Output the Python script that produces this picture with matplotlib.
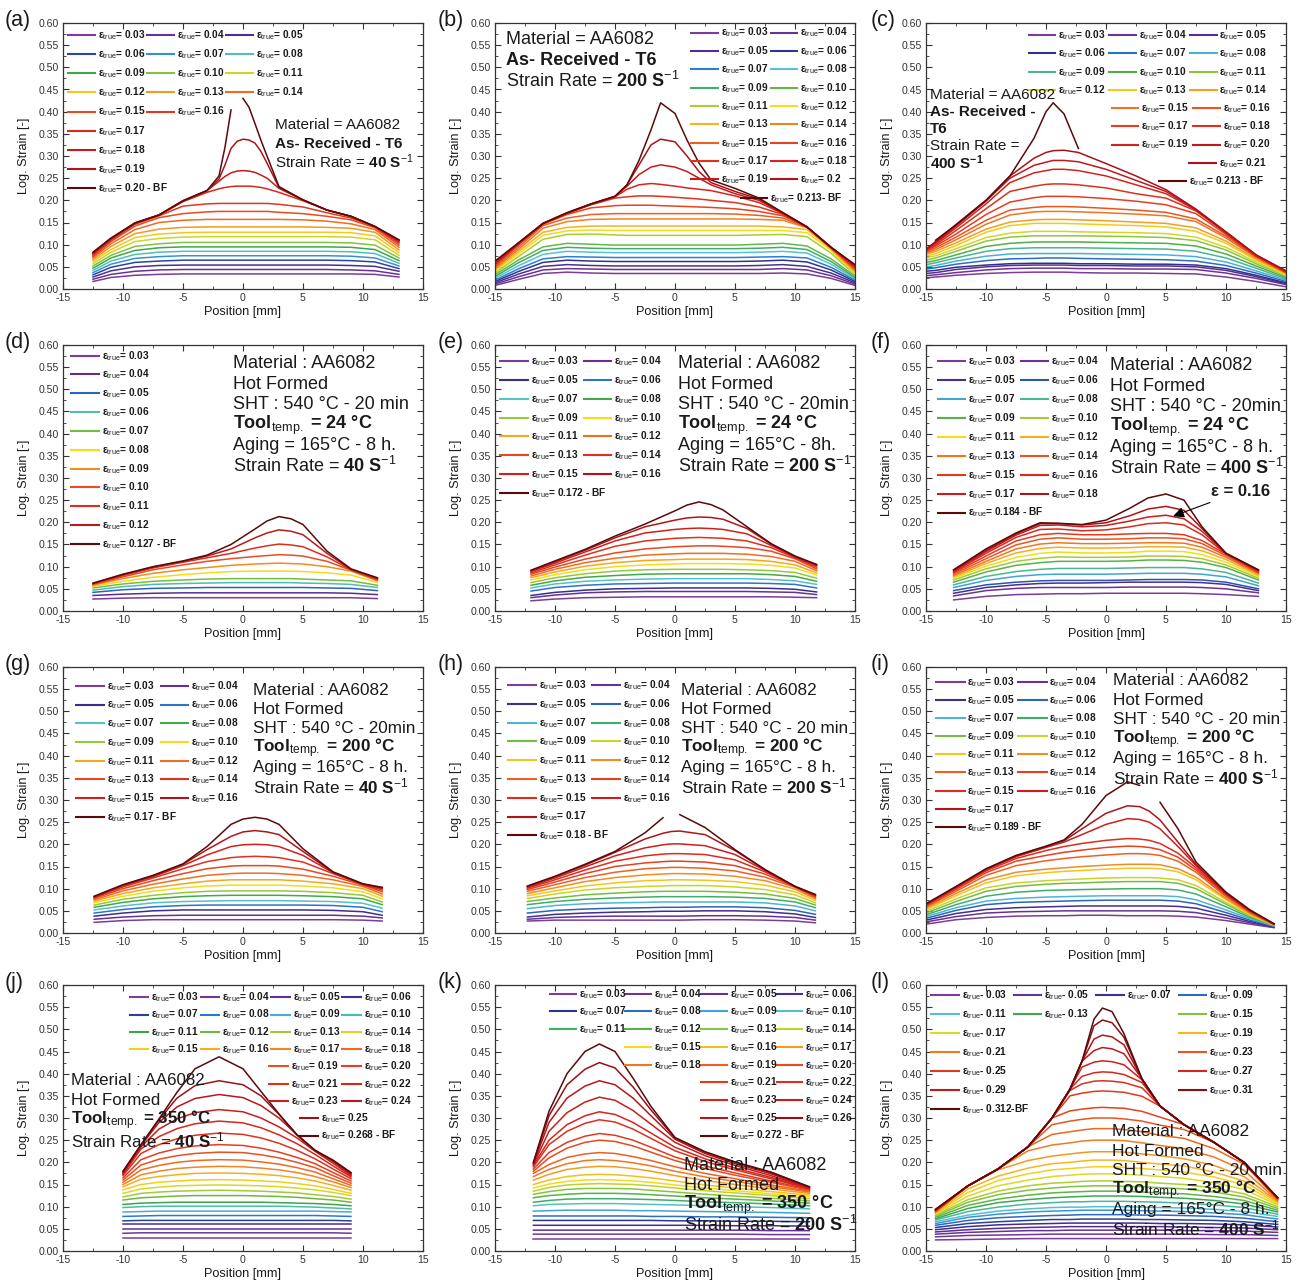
"""Log. strain profiles along the specimen, panels (a)-(l)."""

import matplotlib
matplotlib.use("Agg")
import matplotlib.pyplot as plt
import numpy as np
from matplotlib.colors import LinearSegmentedColormap
from matplotlib.lines import Line2D
from matplotlib.ticker import FormatStrFormatter, MultipleLocator

plt.rcParams["font.family"] = ["Liberation Sans", "DejaVu Sans"]
plt.rcParams["mathtext.fontset"] = "custom"
plt.rcParams["mathtext.rm"] = "Liberation Sans"
plt.rcParams["mathtext.bf"] = "Liberation Sans:bold"
plt.rcParams["mathtext.it"] = "Liberation Sans:italic"
plt.rcParams["mathtext.default"] = "regular"
plt.rcParams["axes.unicode_minus"] = False

nan = np.nan

# ---------------- (a) As-received T6, 40 1/s ----------------
x_a = [-12.5, -11, -9, -7, -5, -3, -2, -1.5, -1, -0.5, 0, 0.5, 1, 1.5, 2, 3, 5, 7, 9, 11, 13]
y_a = [
    [.017, .026, .031, .033, .034, .034, .034, .034, .034, .034, .034, .034, .034, .034, .034, .034, .034, .034, .034, .033, .027],
    [.022, .033, .040, .043, .044, .044, .044, .044, .044, .044, .044, .044, .044, .044, .044, .044, .044, .044, .043, .041, .033],
    [.027, .041, .050, .053, .054, .054, .054, .054, .054, .054, .054, .054, .054, .054, .054, .054, .054, .054, .053, .051, .040],
    [.032, .049, .060, .063, .065, .065, .065, .065, .065, .065, .065, .065, .065, .065, .065, .065, .065, .065, .064, .061, .046],
    [.037, .056, .069, .073, .075, .075, .075, .075, .075, .075, .075, .075, .075, .075, .075, .075, .075, .075, .074, .070, .052],
    [.042, .063, .078, .083, .085, .085, .085, .085, .085, .085, .085, .085, .085, .085, .085, .085, .085, .085, .084, .080, .058],
    [.047, .070, .087, .093, .095, .095, .095, .095, .095, .095, .095, .095, .095, .095, .095, .095, .095, .095, .094, .089, .064],
    [.052, .076, .096, .102, .105, .105, .105, .105, .105, .105, .105, .105, .105, .105, .105, .105, .105, .105, .104, .099, .070],
    [.057, .083, .107, .114, .117, .118, .118, .118, .118, .118, .118, .118, .118, .118, .118, .118, .118, .118, .117, .111, .076],
    [.062, .089, .116, .124, .127, .128, .128, .128, .128, .128, .128, .128, .128, .128, .128, .128, .128, .128, .127, .120, .082],
    [.066, .096, .125, .135, .139, .140, .140, .140, .140, .140, .140, .140, .140, .140, .140, .140, .140, .139, .137, .128, .088],
    [.070, .102, .134, .150, .155, .157, .157, .157, .157, .157, .157, .157, .157, .157, .157, .157, .156, .153, .147, .134, .094],
    [.073, .107, .142, .161, .170, .174, .175, .175, .175, .175, .175, .175, .175, .175, .175, .173, .170, .164, .156, .138, .099],
    [.076, .110, .146, .165, .187, .192, .193, .193, .193, .193, .193, .193, .193, .193, .193, .191, .185, .172, .160, .140, .103],
    [.078, .112, .148, .166, .197, .218, .226, .229, .231, .232, .232, .232, .231, .229, .226, .218, .199, .178, .163, .141, .106],
    [.080, .113, .149, .167, .199, .222, .243, .254, .262, .266, .267, .266, .263, .257, .250, .227, .201, .178, .164, .141, .108],
    [.082, .114, .149, .167, .199, .222, .248, .280, .317, .333, .338, .336, .329, .310, .284, .229, .201, .178, .164, .141, .110],
    [.083, .115, .149, .167, .199, .222, .255, .320, .404, nan, .430, .410, .373, .335, .300, .231, .201, .178, .164, .141, .111],
]
lab_a = ["0.03", "0.04", "0.05", "0.06", "0.07", "0.08", "0.09", "0.10", "0.11", "0.12",
         "0.13", "0.14", "0.15", "0.16", "0.17", "0.18", "0.19", "0.20 - BF"]

# ---------------- (b) As-received T6, 200 1/s ----------------
x_b = [-15, -13, -11, -9, -7, -5, -4, -3, -2, -1.2, 0, 1, 2, 3, 5, 7, 9, 11, 13, 15]
y_b = [
    [.008, .022, .035, .038, .036, .035, .035, .035, .035, .035, .035, .035, .035, .035, .035, .035, .036, .034, .024, .008],
    [.011, .028, .043, .046, .045, .044, .044, .044, .044, .044, .044, .044, .044, .044, .044, .044, .046, .043, .030, .011],
    [.014, .034, .051, .055, .053, .052, .052, .052, .052, .052, .052, .052, .052, .052, .052, .053, .055, .051, .036, .014],
    [.017, .040, .060, .065, .063, .062, .062, .062, .062, .062, .062, .062, .062, .062, .062, .063, .065, .061, .043, .017],
    [.020, .046, .068, .073, .072, .071, .071, .071, .071, .071, .071, .071, .071, .071, .071, .072, .073, .070, .049, .020],
    [.024, .053, .078, .085, .083, .082, .082, .082, .082, .082, .082, .082, .082, .082, .082, .083, .085, .081, .056, .023],
    [.028, .060, .087, .094, .092, .091, .091, .091, .091, .091, .091, .091, .091, .091, .091, .092, .094, .089, .062, .026],
    [.032, .066, .095, .103, .101, .099, .099, .099, .099, .099, .099, .099, .099, .099, .099, .101, .103, .097, .068, .029],
    [.036, .074, .112, .123, .124, .122, .121, .121, .121, .121, .121, .121, .121, .121, .121, .122, .123, .118, .081, .032],
    [.040, .080, .121, .131, .133, .132, .132, .132, .132, .132, .132, .132, .132, .132, .132, .132, .132, .127, .087, .035],
    [.043, .085, .128, .139, .142, .142, .142, .142, .142, .142, .142, .142, .142, .142, .142, .142, .140, .134, .090, .038],
    [.046, .090, .137, .152, .157, .158, .158, .158, .158, .158, .158, .158, .158, .158, .158, .157, .155, .138, .092, .041],
    [.049, .095, .143, .160, .168, .170, .170, .170, .170, .170, .170, .170, .170, .170, .169, .166, .160, .139, .093, .044],
    [.052, .100, .146, .168, .183, .188, .189, .189, .189, .188, .187, .186, .185, .184, .181, .175, .165, .140, .093, .046],
    [.055, .102, .147, .170, .190, .205, .208, .210, .210, .209, .207, .205, .203, .200, .195, .185, .168, .140, .094, .048],
    [.057, .103, .147, .171, .191, .208, .225, .235, .238, .236, .232, .228, .225, .222, .210, .195, .170, .140, .094, .050],
    [.059, .104, .148, .171, .191, .209, .232, .258, .275, .280, .275, .265, .250, .235, .215, .200, .171, .140, .094, .052],
    [.061, .105, .148, .172, .192, .209, .235, .280, .325, .338, .332, .300, .265, .240, .220, .203, .172, .140, .094, .054],
    [.063, .105, .148, .172, .192, .209, .235, .290, .359, .420, .396, .336, .284, .246, .227, .205, .172, .140, .094, .055],
]
lab_b = ["0.03", "0.04", "0.05", "0.06", "0.07", "0.08", "0.09", "0.10", "0.11", "0.12",
         "0.13", "0.14", "0.15", "0.16", "0.17", "0.18", "0.19", "0.2", "0.213- BF"]

# ---------------- (c) As-received T6, 400 1/s ----------------
x_c = [-15, -14.2, -12.5, -10, -8, -6, -5, -4.4, -3.5, -2.3, 0, 2.5, 5, 7.5, 10, 12.5, 15]
y_c = [
    [.025, .027, .031, .035, .037, .038, .038, .038, .038, .037, .036, .036, .035, .034, .027, .017, .005],
    [.030, .032, .037, .043, .046, .047, .047, .047, .047, .046, .046, .045, .045, .044, .036, .024, .010],
    [.035, .037, .044, .050, .053, .054, .054, .054, .054, .053, .053, .052, .052, .050, .042, .028, .012],
    [.040, .042, .049, .054, .057, .058, .058, .058, .058, .057, .057, .056, .056, .054, .046, .031, .014],
    [.045, .048, .056, .064, .068, .069, .070, .070, .070, .069, .068, .067, .066, .063, .053, .036, .017],
    [.050, .053, .063, .074, .079, .080, .080, .080, .080, .080, .079, .078, .077, .073, .061, .041, .020],
    [.055, .059, .070, .085, .091, .093, .093, .093, .093, .093, .092, .091, .090, .085, .070, .047, .023],
    [.060, .064, .077, .096, .103, .106, .106, .106, .106, .106, .105, .104, .103, .097, .079, .052, .026],
    [.065, .070, .085, .108, .117, .120, .120, .120, .120, .120, .119, .118, .116, .109, .088, .057, .029],
    [.070, .075, .091, .116, .126, .130, .130, .130, .130, .129, .128, .127, .125, .117, .094, .061, .031],
    [.074, .080, .098, .128, .143, .148, .148, .148, .148, .147, .145, .143, .140, .130, .103, .065, .033],
    [.078, .085, .104, .135, .151, .156, .157, .157, .157, .156, .154, .151, .148, .138, .108, .068, .035],
    [.081, .089, .111, .146, .167, .174, .175, .175, .175, .174, .172, .169, .165, .152, .115, .071, .036],
    [.083, .093, .117, .155, .178, .184, .186, .186, .186, .185, .182, .178, .173, .158, .119, .073, .037],
    [.085, .097, .124, .168, .196, .206, .209, .209, .209, .208, .204, .198, .190, .170, .123, .074, .038],
    [.087, .100, .132, .181, .220, .232, .236, .237, .237, .235, .228, .215, .205, .176, .126, .075, .039],
    [.088, .103, .138, .192, .240, .262, .267, .270, .270, .267, .255, .235, .215, .178, .127, .076, .040],
    [.089, .105, .142, .198, .250, .279, .286, .290, .290, .287, .270, .245, .220, .179, .128, .077, .040],
    [.090, .107, .145, .200, .255, .295, .308, .312, .313, .308, .283, .255, .224, .180, .129, .077, .041],
    [nan, .110, .145, .200, .255, .340, .400, .420, .395, .317, nan, nan, nan, nan, nan, nan, nan],
]
lab_c = ["0.03", "0.04", "0.05", "0.06", "0.07", "0.08", "0.09", "0.10", "0.11", "0.12",
         "0.13", "0.14", "0.15", "0.16", "0.17", "0.18", "0.19", "0.20", "0.21", "0.213 - BF"]

# ---------------- (d) Hot formed, tool 24 C, 40 1/s ----------------
x_d = [-12.5, -10, -7.5, -5, -3, -1, 1, 2, 3, 4, 5, 7, 9, 11.2]
y_d = [
    [.027, .029, .030, .030, .030, .030, .030, .030, .030, .030, .030, .030, .030, .028],
    [.035, .038, .040, .041, .041, .041, .041, .041, .041, .041, .041, .041, .040, .037],
    [.042, .048, .051, .052, .053, .053, .053, .053, .053, .053, .053, .052, .051, .046],
    [.047, .055, .060, .062, .063, .064, .064, .064, .064, .064, .063, .062, .060, .053],
    [.052, .061, .067, .070, .072, .073, .073, .073, .073, .073, .072, .070, .068, .058],
    [.055, .067, .076, .082, .086, .089, .090, .090, .090, .090, .089, .086, .081, .064],
    [.058, .073, .085, .093, .098, .103, .106, .107, .108, .107, .106, .100, .090, .068],
    [.060, .077, .093, .104, .112, .118, .123, .125, .127, .126, .124, .112, .092, .070],
    [.061, .080, .097, .110, .120, .130, .142, .147, .151, .149, .145, .122, .093, .072],
    [.062, .082, .099, .112, .124, .140, .165, .176, .183, .180, .172, .130, .094, .073],
    [.063, .083, .100, .113, .126, .150, .185, .203, .213, .208, .195, .135, .095, .075],
]
lab_d = ["0.03", "0.04", "0.05", "0.06", "0.07", "0.08", "0.09", "0.10", "0.11", "0.12",
         "0.127 - BF"]

# ---------------- (e) Hot formed, tool 24 C, 200 1/s ----------------
x_e = [-12, -10, -7.5, -5, -2.5, 0, 1, 2, 3, 4, 6, 8, 10, 11.8]
y_e = [
    [.023, .027, .030, .031, .032, .032, .032, .032, .032, .032, .032, .032, .031, .030],
    [.030, .036, .041, .043, .044, .044, .044, .044, .044, .044, .044, .043, .042, .037],
    [.035, .042, .047, .050, .051, .052, .052, .052, .052, .052, .052, .051, .049, .043],
    [.045, .053, .058, .061, .062, .063, .063, .063, .063, .063, .063, .062, .060, .052],
    [.052, .061, .067, .070, .072, .073, .073, .073, .073, .073, .073, .071, .068, .060],
    [.058, .068, .076, .080, .083, .084, .084, .084, .084, .084, .084, .082, .078, .067],
    [.064, .075, .084, .090, .093, .094, .094, .094, .094, .094, .093, .091, .087, .074],
    [.070, .082, .093, .100, .104, .106, .107, .107, .107, .107, .106, .103, .097, .081],
    [.075, .088, .101, .109, .114, .116, .117, .117, .117, .117, .116, .112, .104, .086],
    [.079, .094, .109, .119, .126, .129, .130, .130, .130, .130, .128, .123, .112, .091],
    [.083, .099, .117, .131, .140, .145, .146, .147, .147, .146, .143, .135, .118, .095],
    [.086, .104, .126, .146, .158, .164, .165, .166, .165, .164, .158, .143, .120, .099],
    [.089, .108, .133, .158, .176, .184, .186, .187, .186, .184, .174, .148, .122, .102],
    [.091, .111, .137, .165, .190, .205, .210, .212, .211, .207, .186, .151, .123, .104],
    [.092, .113, .139, .169, .196, .226, .239, .246, .240, .228, .190, .152, .124, .105],
]
lab_e = ["0.03", "0.04", "0.05", "0.06", "0.07", "0.08", "0.09", "0.10", "0.11", "0.12",
         "0.13", "0.14", "0.15", "0.16", "0.172 - BF"]

# ---------------- (f) Hot formed, tool 24 C, 400 1/s ----------------
x_f = [-12.7, -10, -7.5, -5.5, -4, -2, 0, 2, 3.5, 5, 6.5, 8, 10, 12.7]
y_f = [
    [.025, .033, .037, .038, .039, .039, .040, .040, .040, .040, .040, .039, .037, .033],
    [.034, .046, .051, .053, .053, .053, .053, .054, .054, .054, .054, .053, .050, .041],
    [.040, .053, .059, .062, .063, .063, .064, .065, .065, .065, .065, .064, .060, .046],
    [.046, .059, .065, .068, .069, .069, .069, .070, .071, .071, .071, .070, .065, .050],
    [.053, .069, .078, .082, .083, .083, .083, .084, .085, .085, .085, .083, .077, .057],
    [.059, .078, .089, .094, .096, .096, .096, .097, .098, .098, .098, .095, .087, .063],
    [.065, .088, .103, .109, .112, .112, .112, .113, .115, .115, .114, .110, .098, .070],
    [.070, .095, .112, .119, .122, .121, .121, .122, .124, .124, .123, .118, .104, .074],
    [.074, .101, .121, .130, .133, .131, .131, .132, .135, .135, .134, .127, .110, .078],
    [.077, .107, .131, .141, .144, .142, .142, .143, .145, .145, .144, .136, .116, .081],
    [.080, .112, .140, .151, .154, .152, .152, .153, .154, .154, .153, .144, .121, .084],
    [.083, .118, .149, .162, .165, .162, .162, .163, .165, .165, .163, .152, .125, .086],
    [.086, .124, .158, .172, .175, .172, .172, .174, .175, .175, .172, .159, .128, .088],
    [.088, .130, .166, .184, .185, .181, .183, .190, .197, .199, .194, .172, .129, .090],
    [.090, .134, .171, .193, .194, .190, .193, .203, .212, .216, .208, .180, .130, .091],
    [.092, .137, .174, .197, .197, .194, .199, .215, .230, .236, .227, .186, .130, .092],
    [.093, .140, .176, .199, .198, .195, .205, .232, .255, .264, .250, .190, .130, .093],
]
lab_f = ["0.03", "0.04", "0.05", "0.06", "0.07", "0.08", "0.09", "0.10", "0.11", "0.12",
         "0.13", "0.14", "0.15", "0.16", "0.17", "0.18", "0.184 - BF"]
arrow_f = (5.6, 0.214)

# ---------------- (g) Hot formed, tool 200 C, 40 1/s ----------------
x_g = [-12.4, -10, -7.5, -5, -3, -1, 0, 1, 2, 3, 5, 7.5, 10, 11.6]
y_g = [
    [.024, .028, .030, .030, .030, .030, .030, .030, .030, .030, .030, .030, .029, .027],
    [.031, .036, .039, .040, .040, .040, .040, .040, .040, .040, .040, .040, .038, .034],
    [.038, .045, .050, .052, .052, .052, .052, .052, .052, .052, .052, .051, .048, .040],
    [.045, .053, .059, .062, .063, .063, .063, .063, .063, .063, .063, .062, .058, .048],
    [.052, .061, .068, .071, .072, .073, .073, .073, .073, .073, .072, .071, .067, .056],
    [.058, .069, .077, .082, .084, .085, .085, .085, .085, .085, .084, .082, .077, .064],
    [.063, .076, .085, .091, .094, .095, .095, .095, .095, .095, .094, .091, .085, .070],
    [.068, .083, .094, .102, .106, .108, .108, .108, .108, .108, .106, .102, .093, .077],
    [.072, .089, .102, .111, .117, .120, .120, .120, .120, .120, .117, .111, .100, .083],
    [.075, .095, .110, .122, .130, .134, .135, .135, .135, .134, .130, .120, .105, .088],
    [.078, .100, .118, .134, .145, .151, .152, .152, .152, .151, .144, .128, .108, .093],
    [.080, .104, .124, .145, .161, .170, .172, .173, .172, .170, .160, .134, .109, .097],
    [.081, .107, .127, .152, .176, .195, .199, .200, .199, .195, .175, .136, .110, .100],
    [.082, .108, .129, .155, .188, .218, .228, .231, .228, .222, .184, .137, .110, .102],
    [.083, .109, .130, .156, .195, .245, .257, .261, .257, .245, .190, .138, .111, .103],
]
lab_g = ["0.03", "0.04", "0.05", "0.06", "0.07", "0.08", "0.09", "0.10", "0.11", "0.12",
         "0.13", "0.14", "0.15", "0.16", "0.17 - BF"]

# ---------------- (h) Hot formed, tool 200 C, 200 1/s ----------------
x_h = [-12.3, -10, -7.5, -5, -2.5, -1, -0.3, 0.4, 2.5, 5, 7.5, 10, 11.7]
y_h = [
    [.027, .029, .029, .029, .029, .029, .029, .029, .030, .030, .029, .027, .023],
    [.031, .035, .037, .038, .038, .038, .038, .038, .039, .039, .038, .035, .029],
    [.036, .042, .045, .047, .048, .049, .049, .049, .050, .050, .048, .043, .035],
    [.045, .051, .054, .056, .057, .058, .058, .058, .059, .059, .057, .051, .042],
    [.055, .062, .066, .068, .069, .070, .070, .070, .070, .070, .068, .061, .050],
    [.064, .071, .076, .079, .081, .082, .082, .082, .082, .081, .078, .070, .057],
    [.071, .079, .086, .090, .093, .094, .094, .094, .094, .092, .088, .078, .063],
    [.078, .088, .097, .102, .105, .106, .107, .107, .107, .104, .098, .086, .068],
    [.084, .095, .106, .113, .118, .119, .120, .120, .119, .116, .108, .093, .073],
    [.089, .102, .116, .125, .131, .133, .134, .134, .133, .128, .118, .099, .077],
    [.094, .109, .125, .137, .145, .147, .148, .148, .146, .140, .126, .103, .080],
    [.098, .115, .134, .150, .158, .161, .162, .162, .160, .152, .133, .104, .082],
    [.101, .120, .142, .162, .174, .178, .179, .179, .177, .165, .138, .105, .084],
    [.103, .124, .149, .174, .192, .199, .201, .201, .197, .177, .141, .105, .085],
    [.105, .127, .153, .182, .212, .225, .229, .230, .222, .186, .143, .105, .086],
    [.106, .128, .155, .184, .226, .260, nan, .267, .238, .188, .143, .105, .087],
]
lab_h = ["0.03", "0.04", "0.05", "0.06", "0.07", "0.08", "0.09", "0.10", "0.11", "0.12",
         "0.13", "0.14", "0.15", "0.16", "0.17", "0.18 - BF"]

# ---------------- (i) Hot formed, tool 200 C, 400 1/s ----------------
x_i = [-15, -12.5, -10, -7.5, -5, -3.5, -2, 0, 1.8, 2.8, 3.6, 4.5, 6, 7.5, 10, 12, 14]
y_i = [
    [.020, .030, .035, .038, .039, .039, .040, .040, .039, .039, .039, .039, .038, .036, .028, .020, .012],
    [.025, .037, .045, .048, .049, .050, .050, .050, .050, .050, .050, .050, .049, .046, .034, .023, .013],
    [.029, .044, .053, .057, .059, .060, .061, .061, .061, .061, .061, .061, .060, .056, .040, .026, .014],
    [.033, .051, .064, .069, .071, .072, .073, .074, .074, .074, .074, .074, .072, .066, .046, .029, .015],
    [.037, .057, .072, .078, .081, .082, .083, .084, .084, .084, .084, .084, .082, .075, .052, .032, .016],
    [.041, .064, .083, .092, .096, .097, .098, .099, .100, .100, .100, .100, .097, .088, .059, .035, .017],
    [.045, .071, .094, .105, .110, .112, .113, .115, .116, .116, .116, .116, .112, .100, .065, .038, .017],
    [.049, .077, .102, .113, .118, .120, .122, .124, .125, .125, .125, .124, .120, .107, .069, .040, .018],
    [.053, .084, .113, .129, .136, .139, .141, .144, .146, .146, .146, .145, .138, .120, .075, .042, .018],
    [.056, .089, .120, .137, .144, .147, .150, .153, .155, .155, .155, .154, .145, .126, .078, .044, .019],
    [.059, .094, .130, .152, .163, .168, .172, .176, .179, .179, .178, .175, .162, .137, .082, .046, .019],
    [.061, .098, .136, .162, .175, .182, .187, .193, .196, .195, .193, .188, .171, .142, .085, .048, .020],
    [.063, .101, .140, .168, .186, .195, .202, .209, .213, .212, .209, .202, .180, .147, .087, .049, .020],
    [.064, .103, .143, .172, .193, .205, .222, .245, .258, .256, .250, .235, .195, .152, .089, .050, .020],
    [.065, .104, .144, .174, .195, .208, .235, .270, .287, .285, .275, .255, .205, .155, .090, .051, .020],
    [.066, .105, .145, .175, .196, .210, .245, .310, .341, .333, nan, .295, .235, .160, .092, .052, .021],
]
lab_i = ["0.03", "0.04", "0.05", "0.06", "0.07", "0.08", "0.09", "0.10", "0.11", "0.12",
         "0.13", "0.14", "0.15", "0.16", "0.17", "0.189 - BF"]

# ---------------- (j) Hot formed, tool 350 C, 40 1/s ----------------
x_j = [-10, -8.5, -7, -5.5, -4, -2, 0, 1.5, 3, 4.5, 6, 7.5, 9]
y_j = [
    [.030, .030, .030, .030, .030, .030, .030, .030, .030, .030, .030, .030, .030],
    [.040, .041, .041, .041, .041, .041, .041, .041, .041, .041, .041, .041, .040],
    [.050, .050, .050, .050, .050, .050, .050, .050, .050, .050, .050, .050, .050],
    [.060, .060, .060, .060, .060, .060, .060, .060, .060, .060, .060, .060, .060],
    [.068, .069, .069, .069, .069, .069, .069, .069, .069, .069, .069, .069, .068],
    [.078, .079, .080, .080, .080, .080, .080, .080, .080, .080, .080, .079, .078],
    [.088, .089, .090, .090, .090, .090, .090, .090, .090, .090, .090, .089, .088],
    [.098, .100, .101, .101, .101, .101, .101, .101, .101, .100, .099, .097, .095],
    [.105, .108, .109, .110, .110, .110, .110, .110, .109, .108, .107, .105, .102],
    [.115, .120, .122, .124, .125, .125, .125, .124, .123, .121, .118, .115, .110],
    [.122, .130, .133, .135, .136, .137, .136, .135, .133, .131, .127, .123, .117],
    [.130, .140, .144, .147, .148, .149, .148, .147, .145, .142, .138, .132, .125],
    [.138, .150, .155, .158, .160, .161, .160, .158, .156, .152, .147, .139, .130],
    [.145, .162, .168, .172, .175, .176, .175, .173, .170, .165, .158, .148, .137],
    [.150, .172, .180, .186, .189, .191, .190, .187, .183, .177, .168, .156, .143],
    [.155, .183, .193, .200, .204, .206, .205, .201, .196, .188, .178, .163, .148],
    [.160, .194, .207, .215, .220, .223, .222, .217, .210, .200, .188, .170, .153],
    [.165, .206, .221, .231, .237, .240, .238, .232, .223, .211, .197, .177, .158],
    [.170, .220, .240, .253, .261, .266, .263, .255, .243, .227, .208, .185, .163],
    [.173, .230, .258, .276, .287, .293, .289, .278, .262, .242, .218, .192, .167],
    [.175, .235, .275, .298, .312, .319, .314, .300, .280, .255, .225, .198, .170],
    [.177, .238, .290, .325, .344, .353, .346, .328, .300, .262, .227, .202, .173],
    [.179, .239, .296, .345, .373, .384, .375, .350, .308, .262, .227, .204, .175],
    [.180, .240, .298, .358, .411, .438, .411, .360, .309, .262, .227, .205, .177],
]
lab_j = ["0.03", "0.04", "0.05", "0.06", "0.07", "0.08", "0.09", "0.10", "0.11", "0.12",
         "0.13", "0.14", "0.15", "0.16", "0.17", "0.18", "0.19", "0.20", "0.21", "0.22",
         "0.23", "0.24", "0.25", "0.268 - BF"]

# ---------------- (k) Hot formed, tool 350 C, 200 1/s ----------------
x_k = [-11.8, -10.5, -9, -7.5, -6.3, -5, -3.5, -2, 0, 2.5, 5, 8, 11.2]
y_k = [
    [.028, .028, .028, .028, .028, .028, .028, .028, .028, .028, .028, .028, .028],
    [.038, .038, .038, .038, .038, .038, .038, .038, .038, .038, .038, .037, .037],
    [.047, .047, .047, .047, .047, .047, .047, .047, .047, .047, .047, .046, .046],
    [.058, .058, .058, .058, .058, .058, .058, .058, .058, .058, .057, .057, .056],
    [.069, .069, .069, .069, .069, .069, .069, .069, .068, .068, .067, .067, .066],
    [.079, .079, .079, .079, .079, .079, .079, .078, .078, .077, .077, .076, .075],
    [.090, .091, .092, .092, .092, .092, .091, .091, .090, .089, .088, .087, .085],
    [.102, .105, .106, .107, .107, .107, .106, .105, .104, .102, .100, .098, .095],
    [.110, .114, .117, .118, .118, .118, .117, .116, .114, .111, .109, .106, .102],
    [.120, .125, .128, .130, .130, .130, .129, .127, .124, .120, .117, .113, .108],
    [.128, .134, .139, .141, .141, .141, .140, .137, .133, .128, .124, .119, .113],
    [.135, .143, .149, .151, .152, .151, .150, .147, .142, .136, .131, .125, .118],
    [.142, .151, .157, .160, .161, .160, .158, .155, .149, .142, .136, .129, .122],
    [.150, .160, .168, .172, .173, .172, .169, .165, .158, .149, .142, .134, .126],
    [.160, .173, .184, .189, .191, .190, .186, .180, .170, .159, .150, .140, .130],
    [.168, .184, .197, .204, .206, .204, .199, .192, .180, .167, .157, .145, .133],
    [.175, .195, .211, .219, .222, .220, .213, .204, .190, .175, .163, .149, .135],
    [.180, .210, .232, .245, .250, .247, .237, .223, .204, .186, .171, .155, .137],
    [.185, .222, .245, .259, .265, .261, .250, .234, .212, .192, .176, .158, .139],
    [.190, .240, .270, .288, .296, .291, .275, .254, .226, .202, .183, .163, .140],
    [.193, .250, .285, .305, .314, .308, .290, .266, .234, .208, .187, .166, .141],
    [.195, .270, .312, .336, .347, .340, .317, .286, .245, .215, .193, .170, .142],
    [.197, .290, .345, .372, .384, .375, .345, .305, .252, .220, .197, .174, .143],
    [.199, .305, .375, .410, .425, .413, .370, .318, .255, .223, .200, .177, .144],
    [.200, .315, .400, .450, .467, .450, .390, .326, .256, .224, .201, .178, .145],
]
lab_k = ["0.03", "0.04", "0.05", "0.06", "0.07", "0.08", "0.09", "0.10", "0.11", "0.12",
         "0.13", "0.14", "0.15", "0.16", "0.17", "0.18", "0.19", "0.20", "0.21", "0.22",
         "0.23", "0.24", "0.25", "0.26", "0.272 - BF"]

# ---------------- (l) Hot formed, tool 350 C, 400 1/s ----------------
x_l = [-14.2, -11.5, -9, -6.5, -4.5, -3, -2, -1, -0.3, 0.5, 1.5, 3, 4.5, 6.5, 9, 11.5, 14.3]
y_l = [
    [.025, .026, .027, .028, .028, .028, .028, .028, .028, .028, .028, .028, .028, .028, .028, .028, .028],
    [.032, .035, .036, .037, .038, .038, .038, .038, .038, .038, .038, .038, .038, .038, .037, .037, .035],
    [.038, .042, .044, .046, .046, .047, .047, .047, .047, .047, .047, .047, .047, .046, .046, .045, .042],
    [.043, .048, .051, .053, .054, .055, .055, .055, .055, .055, .055, .055, .055, .054, .053, .052, .048],
    [.048, .055, .059, .061, .062, .063, .063, .063, .063, .063, .063, .063, .062, .062, .061, .059, .054],
    [.053, .062, .066, .069, .071, .071, .072, .072, .072, .072, .072, .071, .071, .070, .069, .066, .060],
    [.058, .069, .075, .078, .080, .081, .082, .082, .082, .082, .082, .081, .081, .080, .078, .074, .066],
    [.062, .076, .083, .088, .090, .091, .092, .092, .092, .092, .092, .091, .090, .089, .086, .082, .072],
    [.066, .081, .090, .095, .098, .099, .099, .100, .100, .100, .100, .099, .098, .097, .094, .089, .078],
    [.070, .089, .099, .106, .109, .111, .111, .112, .112, .112, .112, .111, .110, .108, .104, .098, .083],
    [.073, .096, .109, .116, .120, .122, .123, .124, .124, .124, .124, .123, .121, .119, .114, .106, .088],
    [.076, .103, .117, .126, .131, .133, .134, .135, .135, .135, .135, .133, .131, .129, .123, .114, .092],
    [.079, .110, .127, .137, .142, .145, .146, .147, .147, .147, .146, .145, .143, .140, .133, .122, .096],
    [.081, .116, .135, .147, .153, .155, .157, .158, .158, .158, .157, .156, .153, .150, .142, .129, .100],
    [.083, .124, .147, .160, .168, .171, .173, .174, .174, .174, .173, .171, .168, .164, .154, .139, .104],
    [.085, .132, .159, .174, .183, .186, .188, .190, .190, .190, .189, .186, .183, .178, .167, .149, .107],
    [.086, .140, .169, .187, .197, .200, .203, .205, .205, .205, .204, .200, .196, .192, .178, .158, .110],
    [.087, .147, .183, .204, .214, .219, .222, .224, .224, .224, .223, .219, .215, .208, .193, .168, .112],
    [.088, .147, .185, .226, .239, .244, .248, .250, .250, .250, .249, .244, .238, .231, .212, .182, .114],
    [.089, .147, .185, .235, .263, .269, .273, .276, .276, .276, .274, .269, .261, .254, .231, .196, .116],
    [.090, .147, .185, .235, .285, .293, .297, .300, .300, .300, .298, .293, .284, .274, .245, .200, .117],
    [.090, .147, .185, .235, .300, .316, .320, .323, .324, .323, .322, .315, .302, .285, .245, .200, .118],
    [.091, .147, .185, .235, .300, .350, .356, .360, .361, .360, .358, .349, .327, .285, .245, .200, .119],
    [.091, .147, .185, .235, .300, .362, .377, .383, .384, .383, .380, .368, .327, .285, .245, .200, .120],
    [.092, .147, .185, .235, .300, .365, .394, .402, .404, .403, .398, .380, .327, .285, .245, .200, .120],
    [.092, .147, .185, .235, .300, .365, .415, .426, .429, .427, .420, .386, .327, .285, .245, .200, .120],
    [.093, .147, .185, .235, .300, .365, .428, .452, .459, .456, .445, .388, .327, .285, .245, .200, .120],
    [.093, .147, .185, .235, .300, .365, .428, .478, .487, .483, .465, .388, .327, .285, .245, .200, .120],
    [.094, .147, .185, .235, .300, .365, .428, .508, .521, .515, .482, .388, .327, .285, .245, .200, .120],
    [.094, .147, .185, .235, .300, .365, .428, .523, .548, .540, .490, .388, .327, .285, .245, .200, .120],
]
lab_l = ["0.03", "0.05", "0.07", "0.09", "0.11", "0.13", "0.15", "0.17", "0.19", "0.21",
         "0.23", "0.25", "0.27", "0.29", "0.31", "0.312-BF"]
key_l = [0, 2, 4, 6, 8, 10, 12, 14, 16, 18, 20, 22, 24, 26, 28, 29]

# ---------------------------------------------------------------------------
RAMP = LinearSegmentedColormap.from_list("strain", [
    (0.00, "#7d3c98"), (0.10, "#5b2d90"), (0.16, "#2d2f8e"), (0.22, "#2b7fd2"),
    (0.28, "#58c4d6"), (0.35, "#3aa64a"), (0.42, "#8cc63f"), (0.50, "#f2df1a"),
    (0.56, "#f6b122"), (0.62, "#f07b22"), (0.72, "#e8431f"), (0.85, "#d3211c"),
    (0.95, "#a8121a"), (1.00, "#5a0a0a"),
])

SR40 = r"Strain Rate = $\mathbf{40\ S}^{-1}$"
SR200 = r"Strain Rate = $\mathbf{200\ S}^{-1}$"
SR400 = r"Strain Rate = $\mathbf{400\ S}^{-1}$"
T24 = r"Tool$_{\mathrm{temp.}}$ = 24 °C"
T200 = r"Tool$_{\mathrm{temp.}}$ = 200 °C"
T350 = r"Tool$_{\mathrm{temp.}}$ = 350 °C"
N, B = "normal", "bold"

PANELS = [
    dict(tag="(a)", x=x_a, y=y_a, lab=lab_a, sep="= ",
         rows=[[0, 1, 2]] * 4 + [[0, 1]] + [[0]] * 4, kx=(.014, .22, .074), ky=(.955, .072),
         text=[("Material = AA6082", N), ("As- Received - T6", B), (SR40, N)],
         tx=.589, ty=(.615, .069), tfs=11),
    dict(tag="(b)", x=x_b, y=y_b, lab=lab_b, sep="= ",
         rows=[[0, 1]] * 9 + [[0.62]], kx=(.545, .221, .074), ky=(.964, .069),
         text=[("Material = AA6082", N), ("As- Received - T6", B), (SR200, N)],
         tx=.03, ty=(.937, .078), tfs=13),
    dict(tag="(c)", x=x_c, y=y_c, lab=lab_c, sep="= ",
         rows=[[0, 1, 2]] * 4 + [[1.03, 2.04]] * 3 + [[1.99], [1.62]],
         kx=(.285, .224, .074), ky=(.954, .0685),
         text=[("Material = AA6082", N), ("As- Received -", B), ("T6", B),
               ("Strain Rate =", N), (r"400 S$^{-1}$", B)],
         tx=.01, ty=(.728, .063), tfs=11),
    dict(tag="(d)", x=x_d, y=y_d, lab=lab_d, sep="= ",
         rows=[[0]] * 11, kx=(.023, .2, .077), ky=(.96, .0708),
         text=[("Material : AA6082", N), ("Hot Formed", N), ("SHT : 540 °C - 20 min", N),
               (T24, B), ("Aging = 165°C - 8 h.", N), (SR40, N)],
         tx=.473, ty=(.929, .077), tfs=13),
    dict(tag="(e)", x=x_e, y=y_e, lab=lab_e, sep="= ",
         rows=[[0, 1]] * 7 + [[0]], kx=(.014, .232, .077), ky=(.939, .0707),
         text=[("Material : AA6082", N), ("Hot Formed", N), ("SHT : 540 °C - 20min", N),
               (T24, B), ("Aging = 165°C - 8h.", N), (SR200, N)],
         tx=.507, ty=(.929, .077), tfs=13),
    dict(tag="(f)", x=x_f, y=y_f, lab=lab_f, sep="= ",
         rows=[[0, 1]] * 8 + [[0]], kx=(.033, .231, .076), ky=(.939, .0711),
         text=[("Material : AA6082", N), ("Hot Formed", N), ("SHT : 540 °C - 20min", N),
               (T24, B), ("Aging = 165°C - 8 h.", N), (SR400, N)],
         tx=.512, ty=(.922, .077), tfs=13),
    dict(tag="(g)", x=x_g, y=y_g, lab=lab_g, sep="= ",
         rows=[[0, 1]] * 7 + [[0]], kx=(.037, .234, .077), ky=(.929, .0703),
         text=[("Material : AA6082", N), ("Hot Formed", N), ("SHT : 540 °C - 20min", N),
               (T200, B), ("Aging = 165°C - 8 h.", N), (SR40, N)],
         tx=.529, ty=(.912, .0725), tfs=12.3),
    dict(tag="(h)", x=x_h, y=y_h, lab=lab_h, sep="= ",
         rows=[[0, 1]] * 7 + [[0]] * 2, kx=(.037, .233, .078), ky=(.932, .0706),
         text=[("Material : AA6082", N), ("Hot Formed", N), ("SHT : 540 °C - 20 min", N),
               (T200, B), ("Aging = 165°C - 8 h.", N), (SR200, N)],
         tx=.516, ty=(.912, .0725), tfs=12.3),
    dict(tag="(i)", x=x_i, y=y_i, lab=lab_i, sep="= ",
         rows=[[0, 1]] * 7 + [[0]] * 2, kx=(.028, .228, .079), ky=(.945, .0683),
         text=[("Material : AA6082", N), ("Hot Formed", N), ("SHT : 540 °C - 20 min", N),
               (T200, B), ("Aging = 165°C - 8 h.", N), (SR400, N)],
         tx=.519, ty=(.948, .073), tfs=12.3),
    dict(tag="(j)", x=x_j, y=y_j, lab=lab_j, sep="= ",
         rows=[[0, 1, 2, 3]] * 4 + [[1.97, 3]] * 3 + [[2.4]] * 2,
         kx=(.185, .197, .051), ky=(.954, .065),
         text=[("Material : AA6082", N), ("Hot Formed", N), (T350, B), (SR40, N)],
         tx=.023, ty=(.642, .075), tfs=12.2),
    dict(tag="(k)", x=x_k, y=y_k, lab=lab_k, sep="= ",
         rows=[[0, 1, 2, 3]] * 3 + [[1, 2, 3]] * 2 + [[2, 3]] * 3 + [[2]],
         kx=(.152, .21, .072), ky=(.967, .0666),
         text=[("Material : AA6082", N), ("Hot Formed", N), (T350, B), (SR200, N)],
         tx=.526, ty=(.323, .075), tfs=13),
    dict(tag="(l)", x=x_l, y=y_l, lab=lab_l, keys=key_l, sep="- ",
         rows=[[0, 1, 2, 3], [0, 1, 3]] + [[0, 3]] * 4 + [[0]],
         kx=(.015, .229, .076), ky=(.962, .0715),
         text=[("Material : AA6082", N), ("Hot Formed", N), ("SHT : 540 °C - 20 min", N),
               (T350, B), ("Aging = 165°C - 8 h.", N), (SR400, N)],
         tx=.518, ty=(.448, .073), tfs=12.5),
]

W, H = 1299, 1287
COL_LEFT = [63, 495, 926]
ROW_TOP = [23, 345, 667, 985]
AX_W, AX_H = 360, 266
TEXT_C = "#1a1a1a"


def draw_key(ax, p, colors):
    keys = p.get("keys") or list(range(len(p["y"])))
    x0, dx, seg = p["kx"]
    y0, dy = p["ky"]
    k = 0
    for r, slots in enumerate(p["rows"]):
        yy = y0 - r * dy
        for s in slots:
            xx = x0 + s * dx
            ax.add_line(Line2D([xx, xx + seg], [yy, yy], transform=ax.transAxes,
                               color=colors[keys[k]], lw=1.5, clip_on=False))
            ax.text(xx + seg + 0.008, yy, "ε$_{\\mathrm{true}}$" + p["sep"] + p["lab"][k],
                    transform=ax.transAxes, fontsize=7.3, fontweight="bold",
                    va="center", ha="left", color=TEXT_C)
            k += 1


def draw_panel(fig, idx, p):
    col, row = idx % 3, idx // 3
    left = COL_LEFT[col] / W
    bottom = 1 - (ROW_TOP[row] + AX_H) / H
    ax = fig.add_axes([left, bottom, AX_W / W, AX_H / H])

    n = len(p["y"])
    colors = [RAMP(i / (n - 1)) for i in range(n)]
    x = np.asarray(p["x"], dtype=float)
    for i, row_vals in enumerate(p["y"]):
        ax.plot(x, np.asarray(row_vals, dtype=float), color=colors[i], lw=1.1)

    ax.set_xlim(-15, 15)
    ax.set_ylim(0, 0.6)
    ax.xaxis.set_major_locator(MultipleLocator(5))
    ax.xaxis.set_minor_locator(MultipleLocator(2.5))
    ax.yaxis.set_major_locator(MultipleLocator(0.05))
    ax.yaxis.set_minor_locator(MultipleLocator(0.025))
    ax.yaxis.set_major_formatter(FormatStrFormatter("%.2f"))
    ax.tick_params(which="both", direction="in", top=True, right=True,
                   labelsize=7.6, colors="#333333", pad=3)
    ax.tick_params(which="major", length=4, width=0.8)
    ax.tick_params(which="minor", length=2, width=0.6)
    for sp in ax.spines.values():
        sp.set_linewidth(0.9)
        sp.set_color("#333333")
    ax.set_xlabel("Position [mm]", fontsize=9.2, labelpad=2, color=TEXT_C)
    ax.set_ylabel("Log. Strain [-]", fontsize=9.2, labelpad=6, color=TEXT_C)

    draw_key(ax, p, colors)

    y0, dy = p["ty"]
    for i, (s, w) in enumerate(p["text"]):
        ax.text(p["tx"], y0 - i * dy, s, transform=ax.transAxes, fontsize=p["tfs"],
                fontweight=w, va="center", ha="left", color=TEXT_C, zorder=5)

    fig.text((col * 433 + 5) / W, 1 - (ROW_TOP[row] - 13) / H, p["tag"],
             fontsize=15.5, va="top", ha="left", color=TEXT_C)
    return ax


fig = plt.figure(figsize=(W / 100, H / 100), dpi=100)
axes = [draw_panel(fig, i, p) for i, p in enumerate(PANELS)]

# arrow marking one curve in panel (f)
axes[5].annotate("ε = 0.16", xy=arrow_f, xytext=(0.873, 0.45), textcoords="axes fraction",
                 fontsize=12, fontweight="bold", ha="center", va="center", color=TEXT_C,
                 arrowprops=dict(arrowstyle="-|>", color="black", lw=0.8,
                                 mutation_scale=16, shrinkA=2, shrinkB=0))

fig.savefig("out.png", dpi=100)
